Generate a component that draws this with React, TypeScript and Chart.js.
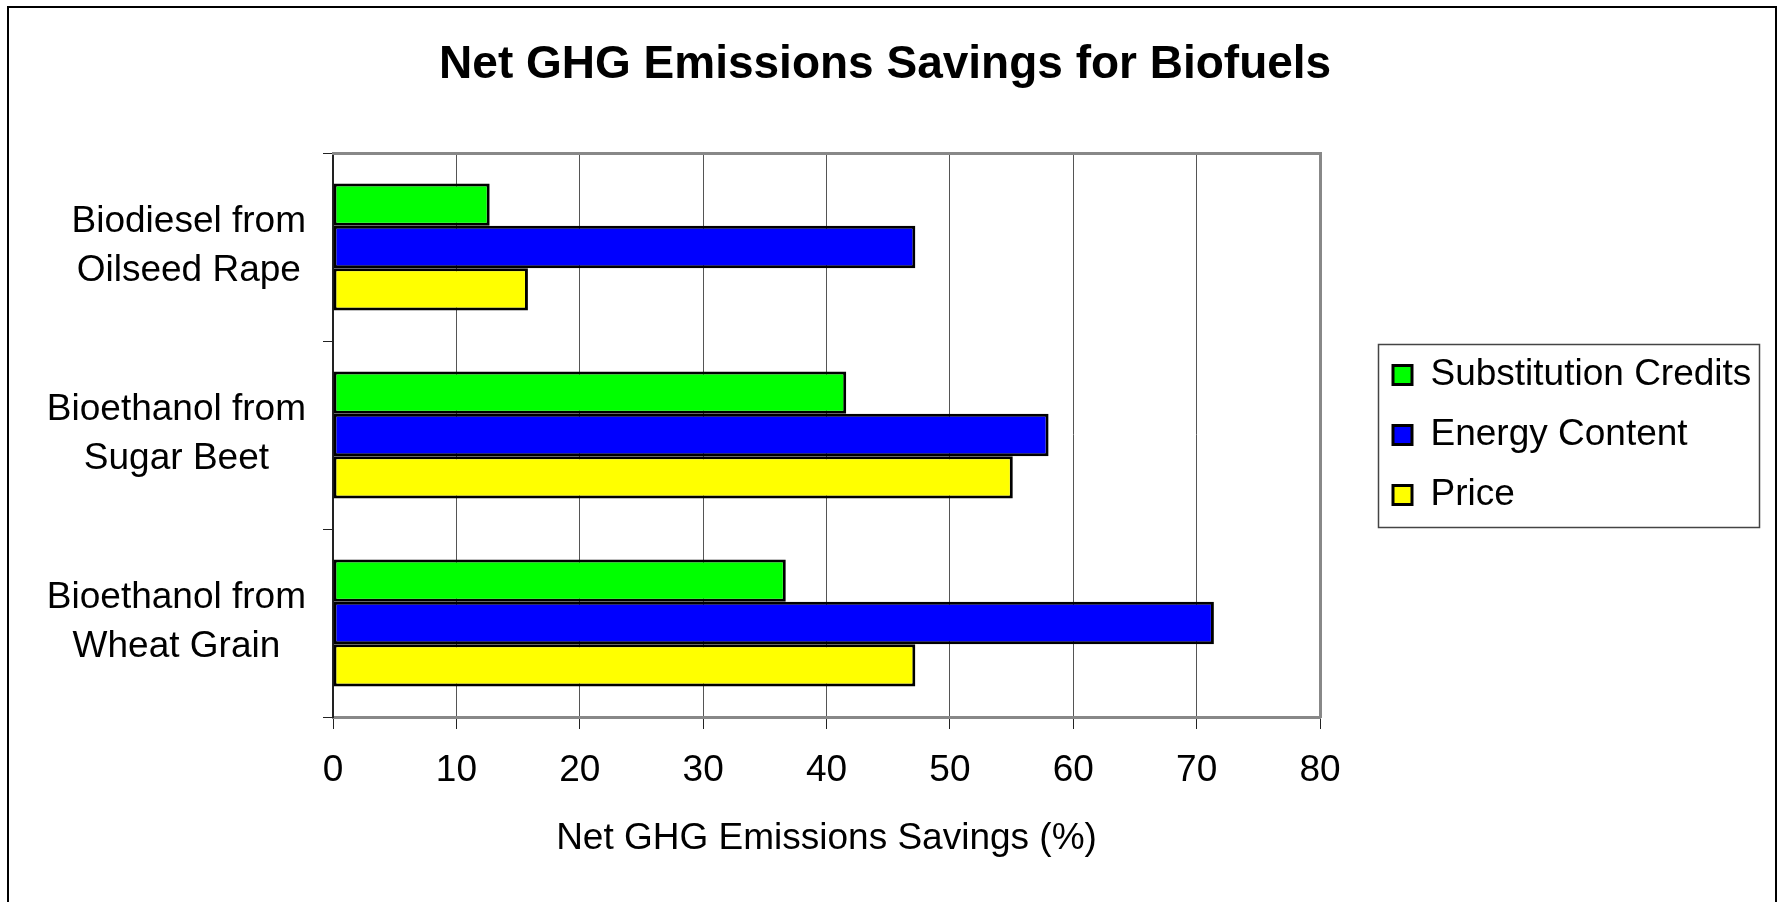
import React, { useEffect, useRef } from "react";
import { Chart, registerables } from "chart.js";

Chart.register(...registerables);

const FONT = '"Liberation Sans", Arial, Helvetica, sans-serif';
const CANVAS_W = 1766;
const CANVAS_H = 894;
const FS = 37;

// ---- data ----
const categories: string[][] = [
  ["Biodiesel from", "Oilseed Rape"],
  ["Bioethanol from", "Sugar Beet"],
  ["Bioethanol from", "Wheat Grain"],
];
const seriesNames = ["Substitution Credits", "Energy Content", "Price"];
const substitutionCredits = [12.7, 41.6, 36.7];
const energyContent = [47.2, 58.0, 71.4];
const price = [15.8, 55.1, 47.2];
const seriesColors = ["#00FF00", "#0000FF", "#FFFF00"];
const xMin = 0;
const xMax = 80;
const xStep = 10;
const chartTitle = "Net GHG Emissions Savings for Biofuels";
const xTitle = "Net GHG Emissions Savings (%)";

const categoryLabelPlugin = {
  id: "categoryLabels",
  afterDraw(chart: any) {
    const ctx = chart.ctx as CanvasRenderingContext2D;
    const ys = chart.scales.y;
    ctx.save();
    ctx.font = `${FS}px ${FONT}`;
    ctx.fillStyle = "#000";
    ctx.textAlign = "center";
    ctx.textBaseline = "middle";
    const right = chart.chartArea.left - 27;
    (chart.data.labels as any[]).forEach((lab, i) => {
      const lines: string[] = Array.isArray(lab) ? lab : [String(lab)];
      const w = Math.max(...lines.map((l) => ctx.measureText(l).width));
      const cx = right - w / 2;
      const cy = ys.getPixelForTick(i);
      const spacing = 49;
      lines.forEach((l, j) => {
        ctx.fillText(l, cx, cy + (j - (lines.length - 1) / 2) * spacing - 1);
      });
    });
    // frame around the legend
    const hb = chart.legend && chart.legend.legendHitBoxes;
    if (hb && hb.length) {
      const left = Math.min(...hb.map((h: any) => h.left)) - 15;
      const r = Math.max(...hb.map((h: any) => h.left + h.width)) + 8;
      const top = Math.min(...hb.map((h: any) => h.top)) - 13;
      const bottom = Math.max(...hb.map((h: any) => h.top + h.height)) + 13;
      ctx.strokeStyle = "#444";
      ctx.lineWidth = 1.5;
      ctx.strokeRect(Math.round(left) + 0.5, Math.round(top) + 0.5, Math.round(r - left), Math.round(bottom - top));
    }
    ctx.restore();
  },
};

export default function App() {
  const canvasRef = useRef<HTMLCanvasElement | null>(null);

  useEffect(() => {
    const canvas = canvasRef.current;
    if (!canvas) return;

    const m = document.createElement("canvas").getContext("2d")!;
    m.font = `${FS}px ${FONT}`;
    const tw = Math.max(...seriesNames.map((n) => m.measureText(n).width));
    const legendPad = 23;
    const legendWidth = legendPad + 19 + FS / 2 + tw + 10;
    const padRight = Math.max(0, CANVAS_W - (1384 - legendPad) - legendWidth);

    const tickFont = { family: FONT, size: FS };
    const values = [substitutionCredits, energyContent, price];

    const chart = new Chart(canvas, {
      type: "bar",
      data: {
        labels: categories,
        datasets: seriesNames.map((name, i) => ({
          label: name,
          data: values[i],
          backgroundColor: seriesColors[i],
          borderColor: "#000",
          borderWidth: 3,
          borderSkipped: false,
          categoryPercentage: 0.676,
          barPercentage: 1,
        })),
      },
      options: {
        indexAxis: "y",
        animation: false,
        responsive: false,
        layout: { padding: { left: 0, right: padRight, top: 0, bottom: 0 } },
        plugins: {
          title: {
            display: true,
            text: chartTitle,
            color: "#000",
            font: { family: FONT, size: 46, weight: "bold" },
            padding: { top: 30, bottom: 0 },
          },
          legend: {
            position: "right",
            fullSize: false,
            align: "center",
            maxWidth: Math.ceil(legendWidth) + 2,
            labels: {
              font: { family: FONT, size: FS },
              color: "#000",
              boxWidth: 19,
              boxHeight: 19,
              padding: legendPad,
            },
          },
          tooltip: { enabled: false },
        },
        scales: {
          x: {
            type: "linear",
            position: "bottom",
            min: xMin,
            max: xMax,
            ticks: { stepSize: xStep, font: tickFont, color: "#000", padding: 20, maxRotation: 0 },
            grid: { color: "#555", lineWidth: 1, tickLength: 12, tickColor: "#222" },
            border: { color: "#888", width: 3 },
            title: {
              display: true,
              text: xTitle,
              color: "#000",
              font: tickFont,
              padding: { top: 0, bottom: 41 },
            },
            afterFit: (s: any) => {
              s.height = 185;
            },
          },
          y: {
            type: "category",
            position: "left",
            ticks: { display: false },
            grid: { drawOnChartArea: false, drawTicks: true, tickLength: 10, color: "#222", offset: true },
            border: { color: "#222", width: 2 },
            afterFit: (s: any) => {
              s.width = 324;
            },
          },
          xTop: {
            type: "linear",
            axis: "x",
            position: "top",
            ticks: { display: false },
            grid: { drawOnChartArea: false, drawTicks: false },
            border: { color: "#888", width: 3 },
            afterFit: (s: any) => {
              s.height = 145 - 85.2;
            },
          },
          yRight: {
            type: "linear",
            axis: "y",
            position: "right",
            ticks: { display: false },
            grid: { drawOnChartArea: false, drawTicks: false },
            border: { color: "#888", width: 3 },
            afterFit: (s: any) => {
              s.width = 50;
            },
          },
        },
      } as any,
      plugins: [categoryLabelPlugin],
    });

    return () => chart.destroy();
  }, []);

  return (
    <div
      style={{
        position: "absolute",
        left: 0,
        top: 0,
        width: 1780,
        height: 902,
        overflow: "hidden",
        background: "#fff",
      }}
    >
      <div
        style={{
          position: "absolute",
          left: 7,
          top: 6,
          width: CANVAS_W,
          height: CANVAS_H + 10,
          borderLeft: "2px solid #000",
          borderTop: "2px solid #000",
          borderRight: "2px solid #000",
        }}
      >
        <canvas ref={canvasRef} width={CANVAS_W} height={CANVAS_H} style={{ display: "block" }} />
      </div>
    </div>
  );
}
